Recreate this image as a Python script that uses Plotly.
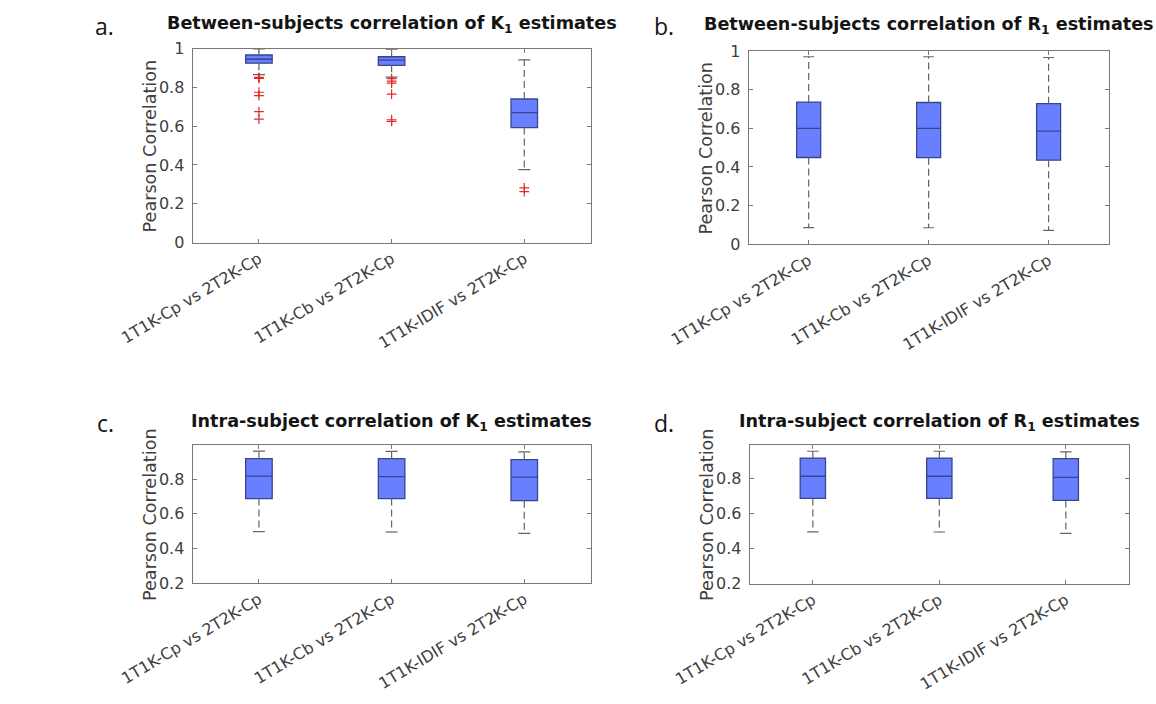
import plotly.graph_objects as go

W, H = 1156, 704

categories = ["1T1K-Cp vs 2T2K-Cp", "1T1K-Cb vs 2T2K-Cp", "1T1K-IDIF vs 2T2K-Cp"]
positions = [1, 2, 3]

# Panel a: between-subjects correlation of K1
a_q1 = [0.925, 0.914, 0.593]
a_med = [0.945, 0.941, 0.670]
a_q3 = [0.967, 0.958, 0.740]
a_lo = [0.866, 0.853, 0.376]
a_hi = [0.998, 0.997, 0.942]
a_out = [[0.852, 0.849, 0.846, 0.775, 0.757, 0.675, 0.636],
         [0.845, 0.832, 0.822, 0.765, 0.633, 0.625],
         [0.282, 0.262]]

# Panel b: between-subjects correlation of R1
b_q1 = [0.449, 0.448, 0.435]
b_med = [0.600, 0.600, 0.586]
b_q3 = [0.736, 0.734, 0.728]
b_lo = [0.086, 0.085, 0.072]
b_hi = [0.971, 0.971, 0.967]
b_out = [[], [], []]

# Panel c: intra-subject correlation of K1
c_q1 = [0.688, 0.688, 0.676]
c_med = [0.818, 0.815, 0.812]
c_q3 = [0.918, 0.918, 0.913]
c_lo = [0.497, 0.495, 0.487]
c_hi = [0.962, 0.960, 0.958]
c_out = [[], [], []]

# Panel d: intra-subject correlation of R1
d_q1 = [0.688, 0.688, 0.677]
d_med = [0.815, 0.815, 0.809]
d_q3 = [0.919, 0.919, 0.916]
d_lo = [0.497, 0.496, 0.488]
d_hi = [0.958, 0.958, 0.955]
d_out = [[], [], []]

titles = ["Between-subjects correlation of K<sub>1</sub> estimates",
          "Between-subjects correlation of R<sub>1</sub> estimates",
          "Intra-subject correlation of K<sub>1</sub> estimates",
          "Intra-subject correlation of R<sub>1</sub> estimates"]
panel_letters = ["a.", "b.", "c.", "d."]
ytitle = "Pearson Correlation"

panels = [
    dict(q1=a_q1, med=a_med, q3=a_q3, lo=a_lo, hi=a_hi, out=a_out,
         px=(120, 548), py=(40.7, 240), yr=[0, 1], ticks=[0, 0.2, 0.4, 0.6, 0.8, 1]),
    dict(q1=b_q1, med=b_med, q3=b_q3, lo=b_lo, hi=b_hi, out=b_out,
         px=(718, 1105), py=(43.3, 241.7), yr=[0, 1], ticks=[0, 0.2, 0.4, 0.6, 0.8, 1]),
    dict(q1=c_q1, med=c_med, q3=c_q3, lo=c_lo, hi=c_hi, out=c_out,
         px=(120, 548), py=(448.3, 590), yr=[0.2, 0.996], ticks=[0.2, 0.4, 0.6, 0.8]),
    dict(q1=d_q1, med=d_med, q3=d_q3, lo=d_lo, hi=d_hi, out=d_out,
         px=(719, 1127), py=(447.7, 590.7), yr=[0.2, 0.996], ticks=[0.2, 0.4, 0.6, 0.8]),
]
title_y = [16, 17, 425, 425]
letter_pos = [(25, 17), (627, 17), (26, 425), (627, 425)]

BOX_FILL = "rgb(104,128,255)"
BOX_LINE = "rgb(58,68,140)"
WHISK = "rgb(100,100,100)"
FRAME = "rgb(120,120,120)"
TXT = "rgb(64,64,64)"
BOX_W = 0.2
CAP = 0.045

fig = go.Figure()
layout = {}
annotations = []

for k, p in enumerate(panels):
    sfx = "" if k == 0 else str(k + 1)
    xa, ya = "x" + sfx, "y" + sfx
    for i, pos in enumerate(positions):
        # dashed whiskers
        fig.add_trace(go.Scatter(
            x=[pos, pos, None, pos, pos],
            y=[p["q3"][i], p["hi"][i], None, p["q1"][i], p["lo"][i]],
            mode="lines", line=dict(color=WHISK, width=1.2, dash="7px,4px"),
            xaxis=xa, yaxis=ya, showlegend=False, hoverinfo="skip"))
        # whisker caps
        fig.add_trace(go.Scatter(
            x=[pos - CAP, pos + CAP, None, pos - CAP, pos + CAP],
            y=[p["hi"][i], p["hi"][i], None, p["lo"][i], p["lo"][i]],
            mode="lines", line=dict(color=WHISK, width=1.2),
            xaxis=xa, yaxis=ya, showlegend=False, hoverinfo="skip"))
        # box
        fig.add_trace(go.Box(
            x=[pos], q1=[p["q1"][i]], median=[p["med"][i]], q3=[p["q3"][i]],
            lowerfence=[p["q1"][i]], upperfence=[p["q3"][i]],
            width=BOX_W, whiskerwidth=0, fillcolor=BOX_FILL,
            line=dict(color=BOX_LINE, width=1.3),
            xaxis=xa, yaxis=ya, showlegend=False, hoverinfo="skip", boxpoints=False))
        # outliers
        if p["out"][i]:
            fig.add_trace(go.Scatter(
                x=[pos] * len(p["out"][i]), y=p["out"][i], mode="markers",
                marker=dict(symbol="cross-thin", size=7, line=dict(color="rgb(230,40,40)", width=1.2)),
                xaxis=xa, yaxis=ya, showlegend=False, hoverinfo="skip"))

    x0, x1 = p["px"]
    y0, y1 = p["py"]
    layout["xaxis" + sfx] = dict(
        domain=[x0 / W, x1 / W], anchor=ya, range=[0.5, 3.5],
        tickmode="array", tickvals=positions, ticktext=categories, tickangle=-31,
        ticks="inside", ticklen=4, tickcolor=FRAME, mirror="allticks",
        showline=True, linecolor=FRAME, linewidth=1, showgrid=False, zeroline=False,
        tickfont=dict(family="DejaVu Sans", size=16, color=TXT), fixedrange=True)
    layout["yaxis" + sfx] = dict(
        domain=[1 - y1 / H, 1 - y0 / H], anchor=xa, range=p["yr"],
        tickmode="array", tickvals=p["ticks"],
        ticktext=[("%g" % t) for t in p["ticks"]],
        ticks="inside", ticklen=4, tickcolor=FRAME, mirror="allticks",
        showline=True, linecolor=FRAME, linewidth=1, showgrid=False, zeroline=False,
        tickfont=dict(family="DejaVu Sans", size=16, color=TXT), ticklabelstandoff=4,
        fixedrange=True)

    annotations.append(dict(
        text="<b>" + titles[k] + "</b>", x=(x0 + x1) / 2 / W, y=1 - title_y[k] / H,
        xref="paper", yref="paper", xanchor="center", yanchor="middle", showarrow=False,
        font=dict(family="DejaVu Sans", size=17.6, color="rgb(20,20,20)")))
    annotations.append(dict(
        text=panel_letters[k], x=letter_pos[k][0] / W, y=1 - letter_pos[k][1] / H,
        xref="paper", yref="paper", xanchor="center", yanchor="middle", showarrow=False,
        font=dict(family="Open Sans", size=23, color="rgb(20,20,20)")))
    annotations.append(dict(
        text=ytitle, x=(x0 - 46) / W, y=1 - (y0 + y1) / 2 / H,
        xref="paper", yref="paper", xanchor="center", yanchor="middle", showarrow=False,
        textangle=-90, font=dict(family="DejaVu Sans", size=17.6, color=TXT)))

fig.update_layout(
    width=W, height=H, margin=dict(l=0, r=0, t=0, b=0),
    paper_bgcolor="white", plot_bgcolor="white",
    annotations=annotations, showlegend=False, boxmode="overlay",
    **layout)

fig.write_html("out.html", config={"displayModeBar": False})
